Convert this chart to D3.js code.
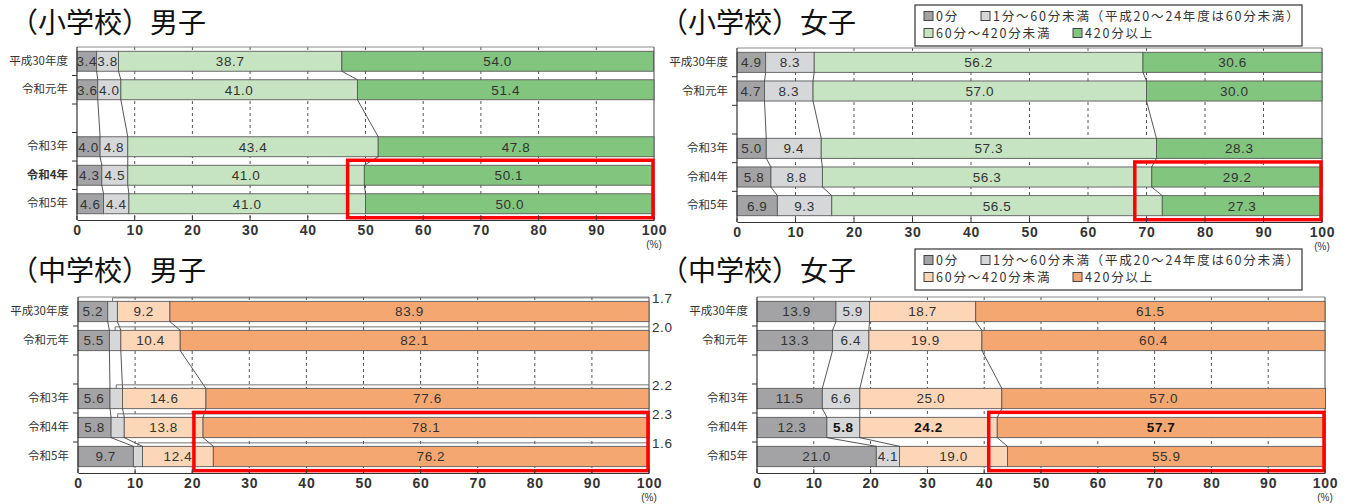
<!DOCTYPE html>
<html lang="ja">
<head>
<meta charset="utf-8">
<script src="https://cdn.jsdelivr.net/npm/d3@7/dist/d3.min.js"></script>
<style>
  html, body { margin: 0; padding: 0; background: #fff; }
  svg { display: block; }
  .jp { font-family: "Noto Sans CJK JP", "Noto Sans", sans-serif; }
  .num { font-family: "Liberation Sans", Arial, sans-serif; }
</style>
</head>
<body>
<svg id="chart" width="1349" height="504"></svg>
<script>
// Survey years; 令和2年 was not surveyed, so its slot stays empty.
const years = ["平成30年度", "令和元年", "令和2年", "令和3年", "令和4年", "令和5年"];
const surveyed = ["平成30年度", "令和元年", "令和3年", "令和4年", "令和5年"];

// Weekly exercise time categories
const categories = ["0分", "1分～60分未満（平成20～24年度は60分未満）", "60分～420分未満", "420分以上"];
const tickValues = [0, 10, 20, 30, 40, 50, 60, 70, 80, 90, 100];

// 小学校 男子 (%)
const elemBoysZero  = [3.4, 3.6, 4.0, 4.3, 4.6];
const elemBoysShort = [3.8, 4.0, 4.8, 4.5, 4.4];
const elemBoysMid   = [38.7, 41.0, 43.4, 41.0, 41.0];
const elemBoysLong  = [54.0, 51.4, 47.8, 50.1, 50.0];

// 小学校 女子 (%)
const elemGirlsZero  = [4.9, 4.7, 5.0, 5.8, 6.9];
const elemGirlsShort = [8.3, 8.3, 9.4, 8.8, 9.3];
const elemGirlsMid   = [56.2, 57.0, 57.3, 56.3, 56.5];
const elemGirlsLong  = [30.6, 30.0, 28.3, 29.2, 27.3];

// 中学校 男子 (%)
const juniorBoysZero  = [5.2, 5.5, 5.6, 5.8, 9.7];
const juniorBoysShort = [1.7, 2.0, 2.2, 2.3, 1.6];
const juniorBoysMid   = [9.2, 10.4, 14.6, 13.8, 12.4];
const juniorBoysLong  = [83.9, 82.1, 77.6, 78.1, 76.2];

// 中学校 女子 (%)
const juniorGirlsZero  = [13.9, 13.3, 11.5, 12.3, 21.0];
const juniorGirlsShort = [5.9, 6.4, 6.6, 5.8, 4.1];
const juniorGirlsMid   = [18.7, 19.9, 25.0, 24.2, 19.0];
const juniorGirlsLong  = [61.5, 60.4, 57.0, 57.7, 55.9];

const greenPalette  = ["#a3a3a6", "#d6d7d9", "#c6e4c1", "#82c57e"];
const orangePalette = ["#a3a3a6", "#d6d7d9", "#fcd6b6", "#f5a772"];

const svg = d3.select("#chart");

const panels = [
  { title: "（小学校）男子", series: [elemBoysZero, elemBoysShort, elemBoysMid, elemBoysLong],
    colors: greenPalette, x0: 77, x1: 654, top: 47, bottom: 220, titleX: 10, titleY: 33,
    highlightFrom: 46.9, boldLabelYear: "令和4年" },
  { title: "（小学校）女子", series: [elemGirlsZero, elemGirlsShort, elemGirlsMid, elemGirlsLong],
    colors: greenPalette, x0: 737, x1: 1322, top: 48, bottom: 222, titleX: 660, titleY: 33,
    highlightFrom: 68.0 },
  { title: "（中学校）男子", series: [juniorBoysZero, juniorBoysShort, juniorBoysMid, juniorBoysLong],
    colors: orangePalette, x0: 78, x1: 649, top: 297, bottom: 473, titleX: 10, titleY: 281,
    highlightFrom: 20.3, shortOutside: true },
  { title: "（中学校）女子", series: [juniorGirlsZero, juniorGirlsShort, juniorGirlsMid, juniorGirlsLong],
    colors: orangePalette, x0: 757, x1: 1325, top: 297, bottom: 473, titleX: 660, titleY: 281,
    highlightFrom: 40.8, boldValueYear: "令和4年", boldFromSeries: 1 }
];

panels.forEach(p => {
  const g = svg.append("g");
  const x = d3.scaleLinear().domain([0, 100]).range([p.x0, p.x1]);
  const y = d3.scaleBand().domain(years).range([p.top, p.bottom - 2]).paddingInner(0.3).paddingOuter(0.15);
  const bh = y.bandwidth();

  // title
  g.append("text").attr("class", "jp").attr("x", p.titleX).attr("y", p.titleY)
    .attr("font-size", 28).attr("font-weight", 400).attr("fill", "#111").text(p.title);

  // rows: cumulative stacks
  const rows = surveyed.map((yr, i) => {
    let acc = 0;
    const segs = p.series.map((s, k) => {
      const seg = { k, v: s[i], a: acc, b: acc + s[i] };
      acc += s[i];
      return seg;
    });
    return { yr, segs };
  });

  // dashed grid
  g.selectAll(".grid").data(tickValues.filter(t => t > 0 && t < 100)).join("line")
    .attr("x1", d => x(d)).attr("x2", d => x(d))
    .attr("y1", p.top).attr("y2", p.bottom)
    .attr("stroke", "#555").attr("stroke-width", 1).attr("stroke-dasharray", "3,3");

  // frame: top and right edges
  g.append("line").attr("x1", p.x0).attr("x2", p.x1).attr("y1", p.top).attr("y2", p.top)
    .attr("stroke", "#888").attr("stroke-width", 1);
  g.append("line").attr("x1", p.x1).attr("x2", p.x1).attr("y1", p.top).attr("y2", p.bottom)
    .attr("stroke", "#666").attr("stroke-width", 1.2);

  // bars
  rows.forEach(r => {
    g.selectAll(null).data(r.segs).join("rect")
      .attr("x", d => x(d.a)).attr("width", d => x(d.b) - x(d.a))
      .attr("y", y(r.yr)).attr("height", bh)
      .attr("fill", d => p.colors[d.k]).attr("stroke", "#5a5a5a").attr("stroke-width", 0.9);
  });

  // connector lines between successive bars
  for (let i = 0; i < rows.length - 1; i++) {
    const r0 = rows[i], r1 = rows[i + 1];
    for (let k = 0; k < 3; k++) {
      g.append("line")
        .attr("x1", x(r0.segs[k].b)).attr("y1", y(r0.yr) + bh)
        .attr("x2", x(r1.segs[k].b)).attr("y2", y(r1.yr))
        .attr("stroke", "#444").attr("stroke-width", 0.9);
    }
  }

  // value labels
  rows.forEach(r => {
    r.segs.forEach(s => {
      if (p.shortOutside && s.k === 1) {
        const cx = x((s.a + s.b) / 2);
        const ly = y(r.yr) - 3.5;
        g.append("path")
          .attr("d", `M${cx},${y(r.yr)}V${ly}H${p.x1}`)
          .attr("fill", "none").attr("stroke", "#666").attr("stroke-width", 0.9);
        g.append("text").attr("class", "num").attr("x", p.x1 + 3).attr("y", ly)
          .attr("dy", "0.36em").attr("font-size", 13.5).attr("letter-spacing", "0.6px")
          .attr("fill", "#333").text(s.v.toFixed(1));
        return;
      }
      const bold = p.boldValueYear === r.yr && s.k >= (p.boldFromSeries || 0);
      g.append("text").attr("class", "num")
        .attr("x", x((s.a + s.b) / 2)).attr("y", y(r.yr) + bh / 2).attr("dy", "0.36em")
        .attr("text-anchor", "middle").attr("font-size", 13.5).attr("letter-spacing", "0.6px")
        .attr("font-weight", bold ? 700 : 400)
        .attr("fill", bold ? "#111" : "#333").text(s.v.toFixed(1));
    });
  });

  // highlight frame around the latest two years
  const hy0 = y("令和4年") - 5, hy1 = y("令和5年") + bh + 4;
  g.append("rect").attr("x", x(p.highlightFrom)).attr("y", hy0)
    .attr("width", x(100) - x(p.highlightFrom) - 1).attr("height", hy1 - hy0)
    .attr("fill", "none").attr("stroke", "#ff0000").attr("stroke-width", 3.5);

  // y axis
  const yAxis = d3.axisLeft(y).tickSize(0).tickFormat(d => surveyed.includes(d) ? d : "");
  const ya = g.append("g").attr("transform", `translate(${p.x0},0)`).call(yAxis);
  ya.select(".domain").remove();
  ya.selectAll("text").attr("class", "jp").attr("x", -9).attr("font-size", 11.5).attr("fill", "#333")
    .attr("font-weight", d => d === p.boldLabelYear ? 700 : 400);
  g.append("line").attr("x1", p.x0).attr("x2", p.x0).attr("y1", p.top).attr("y2", p.bottom)
    .attr("stroke", "#333").attr("stroke-width", 1.2);
  // band boundary ticks
  const bounds = years.slice(1).map(yr => y(yr) - y.step() * y.paddingInner() / 2);
  g.selectAll(".ytick").data(bounds).join("line")
    .attr("x1", p.x0 - 5).attr("x2", p.x0).attr("y1", d => d).attr("y2", d => d)
    .attr("stroke", "#333").attr("stroke-width", 1);

  // x axis
  const xAxis = d3.axisBottom(x).tickValues(tickValues).tickSize(0).tickPadding(5);
  const xa = g.append("g").attr("transform", `translate(0,${p.bottom})`).call(xAxis);
  xa.select(".domain").attr("stroke", "#333").attr("stroke-width", 1.2);
  xa.selectAll("text").attr("class", "num").attr("font-size", 14).attr("font-weight", 700)
    .attr("letter-spacing", "0.8px").attr("fill", "#333");
  g.selectAll(".xtick").data(tickValues).join("line")
    .attr("x1", d => x(d)).attr("x2", d => x(d)).attr("y1", p.bottom - 4).attr("y2", p.bottom)
    .attr("stroke", "#333");
  g.append("text").attr("class", "num").attr("x", p.x1).attr("y", p.bottom + 28)
    .attr("text-anchor", "middle").attr("font-size", 10).attr("fill", "#333").text("(%)");
});

// legends
function legend(left, top, palette) {
  const g = svg.append("g");
  g.append("rect").attr("x", left).attr("y", top).attr("width", 387).attr("height", 41)
    .attr("fill", "#fff").attr("stroke", "#333").attr("stroke-width", 1.2);
  const items = [
    { k: 0, x: left + 9, y: top + 11 },
    { k: 1, x: left + 66, y: top + 11 },
    { k: 2, x: left + 9, y: top + 28 },
    { k: 3, x: left + 158, y: top + 28 }
  ];
  items.forEach(it => {
    g.append("rect").attr("x", it.x).attr("y", it.y - 4.5).attr("width", 9).attr("height", 9)
      .attr("fill", palette[it.k]).attr("stroke", "#444").attr("stroke-width", 1);
    g.append("text").attr("class", "jp").attr("x", it.x + 12).attr("y", it.y).attr("dy", "0.36em")
      .attr("font-size", 12.5).attr("letter-spacing", "1.8px").attr("fill", "#333")
      .text(categories[it.k]);
  });
}
legend(915, 5, greenPalette);
legend(915, 249, orangePalette);
</script>
</body>
</html>
